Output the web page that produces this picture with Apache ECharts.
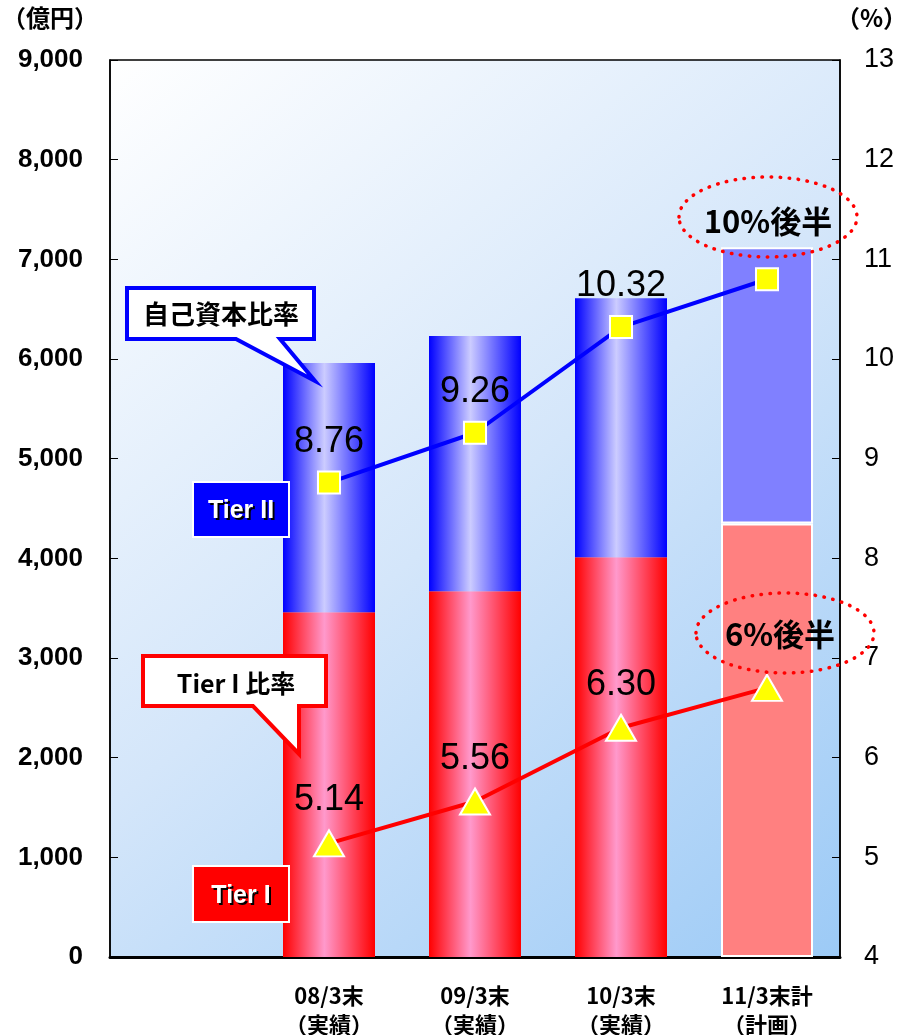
<!DOCTYPE html>
<html>
<head>
<meta charset="utf-8">
<script src="https://cdn.jsdelivr.net/npm/echarts@6/dist/echarts.min.js"></script>
<style>
  html, body { margin: 0; padding: 0; background: #fff; }
  #chart { width: 901px; height: 1035px; }
</style>
</head>
<body>
<div id="chart"></div>
<script>
// 自己資本の推移 — 棒(億円)と比率(%)
var periods = ['08/3末\n（実績）', '09/3末\n（実績）', '10/3末\n（実績）', '11/3末計\n（計画）'];
var tier1 = [3460, 3670, 4010, 4350];
var tier2 = [2500, 2560, 2600, 2770];
var capitalRatio = [8.76, 9.26, 10.32, 10.8];
var tier1Ratio = [5.14, 5.56, 6.30, 6.7];
var leftTicks = { min: 0, max: 9000, interval: 1000 };
var rightTicks = { min: 4, max: 13, interval: 1 };

(function () {
  var chart = echarts.init(document.getElementById('chart'), null, { renderer: 'canvas' });
  var numFont = '"Liberation Sans", Arial, sans-serif';
  var jpFont = '"Noto Sans CJK JP", sans-serif';

  // 先頭に空のカテゴリを置く
  var cats = [''].concat(periods);
  function grad(edge, mid) {
    return new echarts.graphic.LinearGradient(0, 0, 1, 0, [
      { offset: 0, color: edge }, { offset: 0.45, color: mid }, { offset: 1, color: edge }
    ]);
  }
  function barData(vals, edge, mid, planColor) {
    return ['-'].concat(vals.map(function (v, i) {
      if (i === vals.length - 1) {
        return { value: v, itemStyle: { color: planColor, borderColor: '#fff', borderWidth: 2 } };
      }
      return { value: v, itemStyle: { color: grad(edge, mid) } };
    }));
  }
  function lineLabel(p) {
    return p.dataIndex === cats.length - 1 ? '' : p.value.toFixed(2);
  }

  chart.setOption({
    animation: false,
    grid: {
      left: 110, right: 61, top: 60, bottom: 78, show: true,
      outerBoundsMode: 'none', containLabel: false,
      borderColor: '#000', borderWidth: 1.5,
      backgroundColor: new echarts.graphic.LinearGradient(0, 0, 1, 1, [
        { offset: 0, color: '#ffffff' }, { offset: 0.5, color: '#d4e6fa' }, { offset: 1, color: '#9ccaf6' }
      ])
    },
    xAxis: {
      type: 'category',
      data: cats,
      axisLine: { lineStyle: { color: '#000', width: 3 } },
      axisTick: { show: false },
      axisLabel: {
        color: '#000', fontFamily: jpFont, fontWeight: 'bold', fontSize: 22,
        lineHeight: 29, margin: 24, interval: 0
      }
    },
    yAxis: [{
      type: 'value', min: leftTicks.min, max: leftTicks.max, interval: leftTicks.interval,
      position: 'left',
      axisLine: { show: true, lineStyle: { color: '#000', width: 1.5 } },
      axisTick: { show: true, inside: true, length: 8, lineStyle: { color: '#000' } },
      splitLine: { show: false },
      axisLabel: {
        color: '#000', fontFamily: numFont, fontWeight: 'bold', fontSize: 26, margin: 27,
        formatter: function (v) { return v.toLocaleString('en-US'); }
      }
    }, {
      type: 'value', min: rightTicks.min, max: rightTicks.max, interval: rightTicks.interval,
      position: 'right',
      axisLine: { show: true, lineStyle: { color: '#000', width: 1.5 } },
      axisTick: { show: true, inside: true, length: 8, lineStyle: { color: '#000' } },
      splitLine: { show: false },
      axisLabel: { color: '#000', fontFamily: numFont, fontSize: 27, margin: 24 }
    }],
    series: [{
      name: 'Tier I', type: 'bar', stack: 'cap', barWidth: 92,
      data: barData(tier1, '#ff0000', '#ff99cc', '#ff8080')
    }, {
      name: 'Tier II', type: 'bar', stack: 'cap', barWidth: 92,
      data: barData(tier2, '#0000ff', '#ccccff', '#8080ff')
    }, {
      name: '自己資本比率', type: 'line', yAxisIndex: 1,
      data: ['-'].concat(capitalRatio),
      lineStyle: { color: '#0000ff', width: 4 },
      symbol: 'rect', symbolSize: 22,
      itemStyle: { color: '#ffff00', borderColor: '#fff', borderWidth: 2 },
      label: {
        show: true, position: 'top', distance: 11, formatter: lineLabel,
        color: '#000', fontFamily: numFont, fontSize: 36
      },
      z: 5
    }, {
      name: 'Tier I 比率', type: 'line', yAxisIndex: 1,
      data: ['-'].concat(tier1Ratio),
      lineStyle: { color: '#ff0000', width: 4 },
      symbol: 'triangle', symbolSize: [30, 26],
      itemStyle: { color: '#ffff00', borderColor: '#fff', borderWidth: 2 },
      label: {
        show: true, position: 'top', distance: 11, formatter: lineLabel,
        color: '#000', fontFamily: numFont, fontSize: 36
      },
      z: 5
    }],
    graphic: [
      // 単位
      { type: 'text', left: 2, top: 6, style: { text: '（億円）', font: 'bold 24px ' + jpFont, fill: '#000' } },
      { type: 'text', left: 836, top: 6, style: { text: '（%）', font: 'bold 24px ' + jpFont, fill: '#000' } },
      // 吹き出し:自己資本比率
      { type: 'polygon', z: 20, shape: { points: [[127, 288], [314, 288], [314, 339], [280, 339], [315, 381], [236, 339], [127, 339]] },
        style: { fill: '#fff', stroke: '#0000ff', lineWidth: 4, lineJoin: 'miter' } },
      { type: 'text', z: 21, x: 221, y: 314, style: { text: '自己資本比率', font: 'bold 26px ' + jpFont, fill: '#000', align: 'center', verticalAlign: 'middle' } },
      // 吹き出し:Tier I 比率
      { type: 'polygon', z: 20, shape: { points: [[143, 656], [326, 656], [326, 706], [299, 706], [299, 754], [253, 706], [143, 706]] },
        style: { fill: '#fff', stroke: '#ff0000', lineWidth: 4, lineJoin: 'miter' } },
      { type: 'text', z: 21, x: 236, y: 683, style: { text: 'Tier I 比率', font: 'bold 25px ' + jpFont, fill: '#000', align: 'center', verticalAlign: 'middle' } },
      // 凡例ボックス
      { type: 'rect', z: 20, shape: { x: 193, y: 482, width: 96, height: 55 }, style: { fill: '#0000ff', stroke: '#fff', lineWidth: 2 } },
      { type: 'text', z: 21, x: 243, y: 513, style: { text: 'Tier II', font: 'bold 25px ' + numFont, fill: '#000', align: 'center', verticalAlign: 'middle' } },
      { type: 'text', z: 22, x: 241, y: 511, style: { text: 'Tier II', font: 'bold 25px ' + numFont, fill: '#fff', align: 'center', verticalAlign: 'middle' } },
      { type: 'rect', z: 20, shape: { x: 193, y: 866, width: 96, height: 56 }, style: { fill: '#ff0000', stroke: '#fff', lineWidth: 2 } },
      { type: 'text', z: 21, x: 243, y: 898, style: { text: 'Tier I', font: 'bold 25px ' + numFont, fill: '#000', align: 'center', verticalAlign: 'middle' } },
      { type: 'text', z: 22, x: 241, y: 896, style: { text: 'Tier I', font: 'bold 25px ' + numFont, fill: '#fff', align: 'center', verticalAlign: 'middle' } },
      // 計画値の注記
      { type: 'ellipse', z: 20, shape: { cx: 768, cy: 217, rx: 89, ry: 40 },
        style: { fill: 'none', stroke: '#ff0000', lineWidth: 3.5, lineDash: [0.5, 8.5], lineCap: 'round' } },
      { type: 'text', z: 21, x: 768, y: 221, style: { text: '10%後半', font: 'bold 31px ' + jpFont, fill: '#000', align: 'center', verticalAlign: 'middle' } },
      { type: 'ellipse', z: 20, shape: { cx: 785, cy: 633, rx: 89, ry: 40 },
        style: { fill: 'none', stroke: '#ff0000', lineWidth: 3.5, lineDash: [0.5, 8.5], lineCap: 'round' } },
      { type: 'text', z: 21, x: 780, y: 634, style: { text: '6%後半', font: 'bold 31px ' + jpFont, fill: '#000', align: 'center', verticalAlign: 'middle' } }
    ]
  });
  window.addEventListener('resize', function () { chart.resize(); });
})();
</script>
</body>
</html>
